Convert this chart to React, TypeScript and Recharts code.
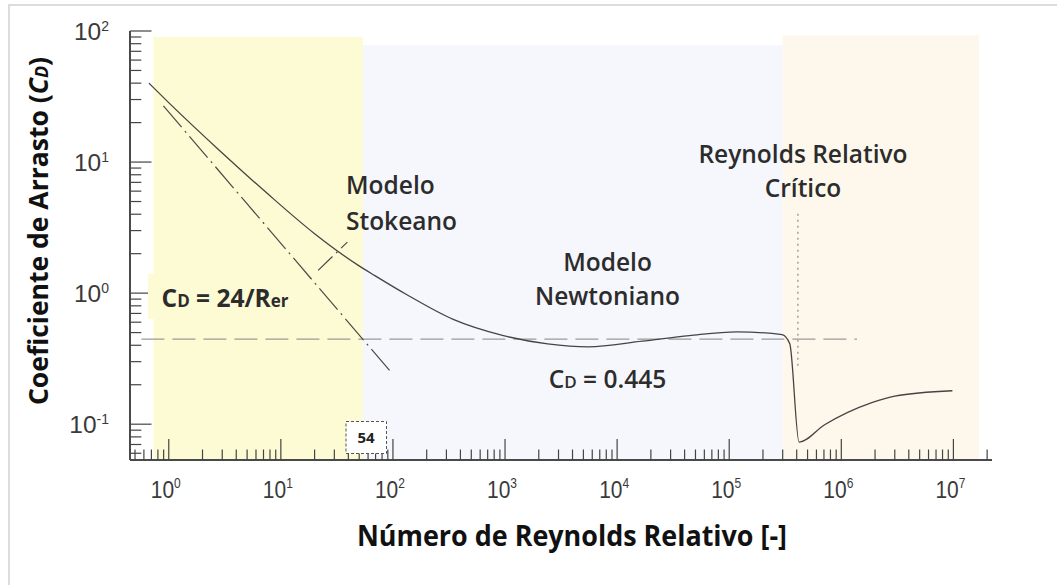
import { LineChart, Line, XAxis, YAxis, ReferenceArea } from "recharts";

// Drag coefficient of a sphere vs. relative Reynolds number (log-log)
const reMain = [0.665, 1.02, 2.85, 7.5, 20, 49.5, 69, 131, 345, 966, 2400, 5540, 16700, 44000, 117000, 296000, 347000, 420000, 710000, 1870000, 3000000, 9800000];
const cdMain = [40, 27.9, 12.2, 5.8, 2.84, 1.62, 1.36, 0.98, 0.63, 0.474, 0.41, 0.389, 0.43, 0.474, 0.507, 0.482, 0.41, 0.073, 0.099, 0.146, 0.164, 0.18];

// Stokes regime, CD = 24/Re
const reStokes = [0.896, 94];
const cdStokes = [26.8, 0.255];

// leader from the "Modelo Stokeano" label
const reLeader = [21.5, 39.2];
const cdLeader = [1.49, 2.45];

// Newton regime constant
const reNewton = [0.57, 1380000];
const cdNewton = [0.445, 0.445];

// critical relative Reynolds
const reCritical = [410000, 410000];
const cdCritical = [0.279, 4.3];

// regime bands
const bandYellow = [0.73, 54];
const bandBlue = [54, 300000];
const bandOrange = [300000, 17000000];

const xDomain = [0.451, 2.21e7];
const yDomain = [0.0533, 100];

const toRows = (xs: number[], ys: number[]) => xs.map((re, i) => ({ re, cd: ys[i] }));

const mainData = toRows(reMain, cdMain);
const stokesData = toRows(reStokes, cdStokes);
const leaderData = toRows(reLeader, cdLeader);
const newtonData = toRows(reNewton, cdNewton);
const criticalData = toRows(reCritical, cdCritical);

// decade ticks with 2..9 minors, clipped to the domain
function logTicks(lo: number, hi: number) {
  const out: number[] = [];
  for (let e = Math.floor(Math.log10(lo)); e <= Math.ceil(Math.log10(hi)); e++) {
    for (let m = 1; m <= 9; m++) {
      const v = +(m * Math.pow(10, e)).toPrecision(6);
      if (v >= lo && v <= hi) out.push(v);
    }
  }
  return out;
}
const xTicks = logTicks(xDomain[0], xDomain[1]);
const yTicks = logTicks(yDomain[0], yDomain[1]);

const isDecade = (v: number) => Math.abs(Math.log10(v) - Math.round(Math.log10(v))) < 1e-6;

const TICK = "#444";
const LABEL = "#3a3a3a";
const INK = "#2c2c2c";
const FRAME = { stroke: "#4a4a4a", strokeWidth: 2 };

function XTick({ x, y, payload }: any) {
  const v = payload.value;
  const major = isDecade(v);
  const exp = Math.round(Math.log10(v));
  return (
    <g>
      <line x1={x} x2={x} y1={y} y2={y - (major ? 21 : 10.5)} stroke={TICK} strokeWidth={1.2} />
      {major && (
        <text x={x - 3} y={y + 38} textAnchor="middle" fontFamily="'Liberation Sans', Arial" fontSize={24.5} fill={LABEL} textLength={30} lengthAdjust="spacingAndGlyphs">
          10<tspan fontSize={14} dy={-10.4}>{exp}</tspan>
        </text>
      )}
    </g>
  );
}

function YTick({ x, y, payload }: any) {
  const v = payload.value;
  const major = isDecade(v);
  const exp = Math.round(Math.log10(v));
  return (
    <g>
      <line x1={x} x2={x + (major ? 21.5 : 11.3)} y1={y} y2={y} stroke={TICK} strokeWidth={1.2} />
      {major && (
        <text x={x - 21} y={y + 9} textAnchor="end" fontFamily="'Liberation Sans', Arial" fontSize={24.5} fill={LABEL}>
          10<tspan fontSize={14} dy={-9.5}>{exp}</tspan>
        </text>
      )}
    </g>
  );
}

const annot = { fontFamily: "'Open Sans', sans-serif", fontWeight: 600, fontSize: 24.5, fill: INK } as const;

export default function App() {
  return (
    <div style={{ position: "absolute", left: 0, top: 0, width: 1057, height: 585, background: "#fff", overflow: "hidden" }}>
      <div style={{ position: "absolute", left: 8, top: 4, width: 1100, height: 700, borderLeft: "2px solid #dcdcdc", borderTop: "2px solid #dcdcdc" }} />
      <LineChart width={1057} height={585} margin={{ top: 31, right: 65, bottom: 0, left: 0 }}>
        <XAxis dataKey="re" type="number" scale="log" domain={xDomain} allowDataOverflow ticks={xTicks} interval={0}
          height={125} tickSize={0} tickMargin={0} tickLine={false} tick={<XTick />} axisLine={FRAME} />
        <XAxis xAxisId="top" orientation="top" dataKey="re" type="number" scale="log" domain={xDomain} allowDataOverflow
          height={0} tick={false} tickLine={false} axisLine={FRAME} />
        <YAxis type="number" scale="log" domain={yDomain} allowDataOverflow ticks={yTicks} interval={0}
          width={130} tickSize={0} tickMargin={0} tickLine={false} tick={<YTick />} axisLine={FRAME} />
        <YAxis yAxisId="right" orientation="right" type="number" scale="log" domain={yDomain} allowDataOverflow
          width={0} tick={false} tickLine={false} axisLine={FRAME} />

        <ReferenceArea x1={bandYellow[0]} x2={bandYellow[1]} y1={yDomain[0]} y2={90} fill="#fdfbd4" fillOpacity={1} stroke="none" ifOverflow="hidden" />
        <ReferenceArea x1={bandBlue[0]} x2={bandBlue[1]} y1={yDomain[0]} y2={78} fill="#f6f7fd" fillOpacity={1} stroke="none" ifOverflow="hidden" />
        <ReferenceArea x1={bandOrange[0]} x2={bandOrange[1]} y1={yDomain[0]} y2={93} fill="#fef8ec" fillOpacity={1} stroke="none" ifOverflow="hidden" />

        <Line data={newtonData} dataKey="cd" stroke="#9a9a9a" strokeWidth={1.3} strokeDasharray="23 8" dot={false} isAnimationActive={false} type="linear" />
        <Line data={criticalData} dataKey="cd" stroke="#888" strokeWidth={1.2} strokeDasharray="2 4" dot={false} isAnimationActive={false} type="linear" />
        <Line data={stokesData} dataKey="cd" stroke="#4a4a4a" strokeWidth={1.2} strokeDasharray="28 5 2 5" dot={false} isAnimationActive={false} type="linear" />
        <Line data={leaderData} dataKey="cd" stroke="#4a4a4a" strokeWidth={1.2} strokeDasharray="20 5 2 5" dot={false} isAnimationActive={false} type="linear" />
        <Line data={mainData} dataKey="cd" stroke="#444" strokeWidth={1.3} dot={false} isAnimationActive={false} type="monotone" />
      </LineChart>

      <svg width={1057} height={585} style={{ position: "absolute", left: 0, top: 0, pointerEvents: "none" }}>
        <text transform="translate(48,231) rotate(-90)" textAnchor="middle" fontFamily="'Open Sans', sans-serif" fontWeight={700} fontSize={26.5} fill="#111">
          Coeficiente de Arrasto (<tspan fontStyle="italic">C</tspan><tspan fontStyle="italic" fontSize={18}>D</tspan>)
        </text>
        <text x={572} y={546} textAnchor="middle" fontFamily="'Open Sans', sans-serif" fontWeight={700} fontSize={28.5} fill="#111" textLength={430} lengthAdjust="spacingAndGlyphs">
          Número de Reynolds Relativo [-]
        </text>

        <rect x={148} y={274} width={151} height={45} fill="#fdfbd4" />
        <text x={161.5} y={307} {...annot} fontWeight={700}>
          C<tspan fontSize={17}>D</tspan> = 24/R<tspan fontSize={17}>er</tspan>
        </text>

        <text x={346} y={194} {...annot}>Modelo</text>
        <text x={346} y={229.5} {...annot}>Stokeano</text>

        <text x={607.5} y={271} textAnchor="middle" {...annot}>Modelo</text>
        <text x={607.5} y={305} textAnchor="middle" {...annot}>Newtoniano</text>
        <text x={607.5} y={387.5} textAnchor="middle" {...annot}>
          C<tspan fontSize={17}>D</tspan> = 0.445
        </text>

        <text x={803} y={162.5} textAnchor="middle" {...annot}>Reynolds Relativo</text>
        <text x={803} y={196.5} textAnchor="middle" {...annot}>Crítico</text>

        <rect x={346} y={421.5} width={40.5} height={32} fill="#fff" stroke="#555" strokeDasharray="3 2" />
        <text x={366} y={443} textAnchor="middle" fontFamily="'Open Sans', sans-serif" fontWeight={700} fontSize={15} fill="#222">54</text>
      </svg>
    </div>
  );
}
